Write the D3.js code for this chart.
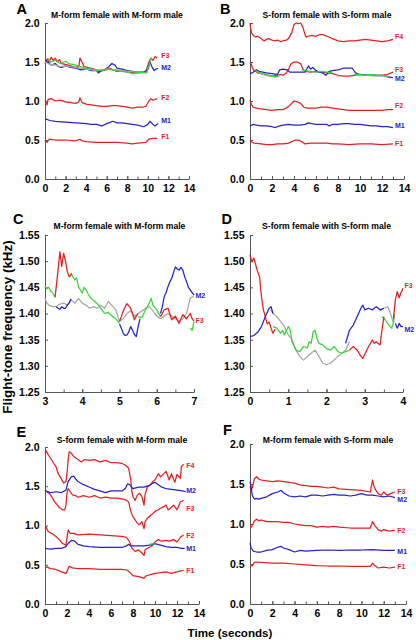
<!DOCTYPE html>
<html><head><meta charset="utf-8">
<script src="https://cdn.jsdelivr.net/npm/d3@7"></script>
<style>
body{margin:0;background:#fff}
svg{display:block}
text{font-family:"Liberation Sans",Arial,sans-serif;font-weight:bold}
</style></head>
<body><svg id="c" width="416" height="640"></svg>
<script>
// ---------- DATA (time s, frequency kHz); null = gap ----------
const panelLetters = ["A","B","C","D","E","F"];
const panelTitles = ["M-form female with M-form male","S-form female with S-form male",
  "M-form female with M-form male","S-form female with S-form male",
  "S-form female with M-form male","M-form female with S-form male"];
const xTitle = "Time (seconds)";
const yTitle = "Flight-tone frequency (kHz)";

const xTicksLong = [0,2,4,6,8,10,12,14];
const xMinorLong = [0,1,2,3,4,5,6,7,8,9,10,11,12,13,14];
const yTicksLong = [0,0.5,1.0,1.5,2.0];
const xTicksC = [3,4,5,6,7];
const xMinorC = [3,3.5,4,4.5,5,5.5,6,6.5,7];
const xTicksD = [0,1,2,3,4];
const xMinorD = [0,0.5,1,1.5,2,2.5,3,3.5,4];
const yTicksZoom = [1.25,1.30,1.35,1.40,1.45,1.50,1.55];

// Panel A
const A_F1=[[0,.50],[.2,.47],[.4,.51],[1,.50],[2,.50],[3,.49],[3.4,.51],[3.6,.49],[4,.48],[5,.47],[6,.47],[7,.47],[8,.46],[8.5,.45],[9,.46],[9.8,.47],[10.1,.51],[10.5,.52],[10.9,.52]];
const A_F2=[[0,1.01],[.2,.95],[.3,1.02],[.6,1.03],[1,1.0],[1.5,1.01],[2,.99],[2.5,.98],[3,.97],[3.3,.99],[3.4,1.04],[3.6,.98],[4,.96],[4.5,.95],[5,.94],[5.5,.93],[6,.93],[6.5,.94],[7,.94],[7.5,.93],[8,.92],[8.5,.91],[9,.92],[9.5,.92],[9.8,.93],[10.1,1.0],[10.3,1.03],[10.5,1.01],[10.9,1.03]];
const A_M1=[[0,.77],[.5,.75],[1,.74],[2,.73],[3,.72],[4,.71],[4.5,.70],[5,.70],[5.5,.68],[6,.71],[6.6,.74],[7,.72],[7.5,.72],[8,.71],[8.5,.70],[9,.69],[9.6,.67],[10,.70],[10.2,.74],[10.5,.70],[10.7,.68],[11,.71]];
const A_F3=[[0,1.48],[.2,1.54],[.4,1.50],[.6,1.56],[.8,1.52],[1,1.55],[1.2,1.50],[1.4,1.53],[1.6,1.48],[2,1.47],[2.5,1.45],[3,1.43],[3.3,1.45],[3.4,1.55],[3.6,1.50],[3.8,1.44],[4.5,1.42],[5,1.40],[5.2,1.38],[5.5,1.40],[6,1.40],[6.3,1.42],[6.6,1.40],[7,1.38],[7.5,1.39],[8,1.37],[9,1.36],[9.8,1.37],[10.1,1.50],[10.3,1.55],[10.5,1.52],[10.7,1.57],[10.9,1.55]];
const A_M2=[[0,1.52],[.3,1.50],[.6,1.46],[1,1.48],[1.3,1.44],[1.6,1.43],[2,1.45],[2.5,1.43],[3,1.42],[3.5,1.40],[4,1.41],[4.5,1.39],[5,1.39],[5.2,1.36],[5.4,1.38],[5.8,1.40],[6.2,1.44],[6.5,1.48],[6.8,1.46],[7,1.42],[7.5,1.41],[8,1.39],[8.5,1.38],[9,1.37],[9.6,1.37],[10,1.40],[10.2,1.50],[10.4,1.44],[10.6,1.39],[10.8,1.41],[11,1.42]];
const A_gray=[[0,1.50],[.5,1.47],[1,1.46],[1.5,1.44],[2,1.45],[2.5,1.44],[3,1.43],[4,1.41],[4.5,1.40],[5,1.39],[6,1.41],[7,1.40],[7.5,1.39],[8,1.38],[9,1.37],[9.8,1.36]];
const A_green=[[.3,1.55],[.5,1.50],[1,1.52],[1.5,1.48],[2,1.51],[2.3,1.48],[3,1.46],[3.5,1.44],[4,1.42],[4.5,1.41],[5,1.40],[5.5,1.39],[6,1.41],[6.5,1.40],[7,1.39],[7.5,1.38],[8,1.37],[8.5,1.35],[9,1.36],[9.5,1.37],[9.9,1.36],[10.1,1.45],[10.3,1.55]];

// Panel B
const B_F4=[[0,2.0],[.05,1.93],[.15,1.87],[.3,1.84],[.5,1.82],[.7,1.83],[1,1.80],[1.3,1.77],[1.5,1.79],[1.7,1.80],[2,1.78],[2.3,1.77],[2.5,1.78],[2.8,1.76],[3,1.77],[3.3,1.78],[3.5,1.80],[3.8,1.88],[4,1.98],[4.2,2.0],[4.4,1.99],[4.6,2.0],[4.8,1.95],[5,1.85],[5.1,1.82],[5.3,1.83],[5.6,1.84],[6,1.83],[6.3,1.85],[6.6,1.85],[7,1.83],[7.5,1.80],[8,1.77],[8.5,1.76],[9,1.77],[9.5,1.77],[10,1.78],[10.5,1.79],[11,1.78],[11.5,1.77],[12,1.76],[12.5,1.77],[13,1.79]];
const B_F3=[[0,1.50],[.1,1.48],[.2,1.43],[.3,1.40],[.5,1.38],[.7,1.36],[1,1.35],[1.5,1.33],[2,1.32],[2.5,1.33],[2.8,1.34],[3,1.33],[3.3,1.36],[3.5,1.40],[3.7,1.47],[4,1.50],[4.3,1.50],[4.6,1.48],[4.8,1.41],[5,1.38],[5.5,1.37],[6,1.38],[6.5,1.37],[7,1.36],[7.5,1.35],[8,1.33],[8.5,1.32],[9,1.32],[9.5,1.33],[10,1.33],[11,1.33],[12,1.33],[12.5,1.34],[13,1.37]];
const B_M2=[[0,1.35],[.2,1.36],[.4,1.38],[.6,1.40],[.8,1.38],[1.5,1.36],[2.5,1.34],[2.7,1.40],[3,1.41],[3.4,1.40],[3.6,1.37],[4,1.37],[4.5,1.37],[5,1.37],[5.2,1.42],[5.3,1.45],[5.5,1.41],[5.7,1.43],[6,1.39],[6.3,1.37],[6.6,1.36],[6.9,1.33],[7.2,1.38],[7.5,1.39],[8,1.40],[8.5,1.42],[9,1.42],[9.3,1.42],[9.6,1.36],[10,1.34],[11,1.33],[12,1.33],[12.5,1.31],[13,1.30]];
const B_gray=[[.8,1.36],[1.2,1.34],[1.6,1.33],[2,1.32],[2.4,1.31],[2.7,1.32],[2.8,null],[9.6,1.33],[10.5,1.33],[11.5,1.32],[12.5,1.32]];
const B_green=[[.5,1.39],[.7,1.37],[1,1.36],[1.3,1.35],[1.5,1.34],[1.8,1.33],[2,1.32],[2.3,1.31],[2.5,1.32],[2.6,null],[4.7,1.40],[5,1.39],[5.5,1.38],[6,1.37],[6.5,1.38],[7,1.37],[7.5,1.36],[7.6,null],[9.5,1.34],[10,1.34],[10.5,1.33],[11,1.34],[11.5,1.33],[12,1.33],[12.5,1.32]];
const B_F2=[[0,1.01],[.15,.95],[.3,.92],[.6,.91],[1,.90],[1.5,.89],[2,.88],[2.5,.89],[3,.89],[3.3,.91],[3.6,.94],[4,1.0],[4.3,.99],[4.6,.97],[4.9,.92],[5.2,.91],[6,.91],[6.5,.92],[7,.92],[7.5,.91],[8,.90],[8.5,.89],[9,.88],[10,.88],[11,.88],[12,.88],[12.5,.89],[13,.89]];
const B_M1=[[0,.68],[.3,.70],[.6,.69],[1,.68],[1.5,.68],[2,.67],[2.3,.66],[2.7,.68],[3,.69],[3.5,.70],[4,.69],[4.5,.69],[5,.70],[5.3,.72],[5.6,.71],[6,.70],[6.5,.70],[7,.70],[7.2,.68],[7.5,.70],[8,.70],[8.5,.71],[9,.71],[9.5,.70],[10,.70],[10.5,.69],[11,.68],[11.5,.68],[12,.67],[12.5,.67],[13,.66]];
const B_F1=[[0,.50],[.2,.47],[.4,.46],[1,.45],[1.5,.44],[2,.44],[2.5,.45],[3,.45],[3.5,.46],[3.8,.48],[4.1,.50],[4.4,.50],[4.7,.48],[5,.45],[5.5,.46],[6,.46],[7,.46],[7.5,.45],[8,.45],[9,.44],[10,.45],[11,.45],[12,.44],[13,.45]];

// Panel C (zoom of A, 3-7 s)
const C_gray=[[3,1.429],[3.05,1.42],[3.1,1.416],[3.2,1.413],[3.3,1.413],[3.4,1.418],[3.5,1.42],[3.6,1.416],[3.7,1.426],[3.8,1.42],[3.9,1.429],[4,1.42],[4.1,1.416],[4.2,1.41],[4.3,1.413],[4.4,1.41],[4.5,1.416],[4.6,1.41],[4.7,1.423],[4.8,1.415],[4.9,1.407],[5,1.385],[5.1,1.39],[5.2,1.40],[5.3,1.405],[5.4,1.395],[5.5,1.40],[5.6,1.405],[5.7,1.41],[5.8,1.413],[5.9,1.405],[6,1.395],[6.1,1.39],[6.2,1.395],[6.3,1.40],[6.4,1.395],[6.5,1.39],[6.6,1.385],[6.7,1.39],[6.8,1.40],[6.9,1.43],[7,1.433]];
const C_green=[[3,1.451],[3.05,1.447],[3.1,1.45],[3.15,1.443],[3.2,1.44],[3.27,1.431],[3.28,null],[3.7,1.477],[3.75,1.47],[3.8,1.464],[3.85,1.468],[3.9,1.451],[3.95,1.445],[4,1.439],[4.05,1.45],[4.1,1.445],[4.2,1.432],[4.3,1.425],[4.4,1.419],[4.5,1.41],[4.6,1.40],[4.7,1.402],[4.8,1.395],[4.9,1.39],[5,1.381],[5.01,null],[5.5,1.394],[5.6,1.392],[5.7,1.407],[5.8,1.42],[5.85,1.429],[5.9,1.415],[6,1.407],[6.1,1.394],[6.11,null],[6.9,1.372],[6.95,1.368],[7,1.385]];
const C_F3=[[3.27,1.431],[3.3,1.45],[3.35,1.483],[3.4,1.518],[3.45,1.49],[3.5,1.515],[3.55,1.50],[3.6,1.48],[3.65,1.47],[3.7,1.474],[3.72,1.477],[3.73,null],[5,1.385],[5.05,1.394],[5.1,1.405],[5.2,1.419],[5.3,1.41],[5.35,1.40],[5.4,1.388],[5.45,1.395],[5.5,1.40],[5.51,null],[6.1,1.394],[6.15,1.40],[6.2,1.407],[6.3,1.41],[6.35,1.40],[6.4,1.388],[6.5,1.395],[6.6,1.381],[6.65,1.39],[6.7,1.398],[6.8,1.39],[6.85,1.395],[6.9,1.40],[6.95,1.39],[7,1.386]];
const C_M2=[[3.3,1.413],[3.35,1.41],[3.4,1.408],[3.45,1.413],[3.5,1.41],[3.55,1.41],[3.6,1.416],[3.65,1.42],[3.7,1.428],[3.71,null],[5,1.38],[5.05,1.372],[5.1,1.362],[5.15,1.358],[5.2,1.359],[5.25,1.365],[5.3,1.375],[5.35,1.368],[5.4,1.36],[5.45,1.356],[5.5,1.375],[5.55,1.39],[5.56,null],[6.1,1.40],[6.15,1.413],[6.2,1.432],[6.25,1.44],[6.3,1.451],[6.35,1.46],[6.4,1.467],[6.45,1.478],[6.5,1.489],[6.55,1.485],[6.6,1.483],[6.65,1.488],[6.7,1.483],[6.75,1.47],[6.8,1.461],[6.85,1.45],[6.9,1.445],[6.95,1.44],[7,1.435]];

// Panel D (zoom of B, 0-4 s)
const D_gray=[[.55,1.407],[.6,1.40],[.7,1.394],[.8,1.385],[.9,1.375],[1,1.359],[1.1,1.35],[1.2,1.33],[1.3,1.318],[1.4,1.311],[1.5,1.318],[1.6,1.324],[1.7,1.33],[1.8,1.318],[1.9,1.305],[2,1.302],[2.1,1.305],[2.2,1.311],[2.3,1.318],[2.4,1.324],[2.5,1.33],[2.6,1.346],[2.61,null],[3.4,1.405],[3.5,1.41],[3.6,1.413],[3.65,1.405],[3.7,1.394],[3.75,1.381]];
const D_green=[[.6,1.375],[.7,1.372],[.8,1.362],[.85,1.368],[.9,1.359],[1,1.375],[1.05,1.368],[1.1,1.346],[1.2,1.33],[1.3,1.327],[1.4,1.337],[1.5,1.334],[1.55,1.346],[1.6,1.343],[1.65,1.365],[1.7,1.368],[1.75,1.353],[1.8,1.343],[1.9,1.34],[2,1.333],[2.1,1.33],[2.2,1.337],[2.3,1.327],[2.4,1.324],[2.5,1.327],[2.6,1.33],[2.61,null],[3.45,1.394],[3.5,1.391],[3.6,1.381],[3.7,1.372],[3.75,1.381],[3.78,1.40]];
const D_F3=[[0,1.512],[.05,1.499],[.1,1.506],[.15,1.493],[.2,1.48],[.25,1.47],[.3,1.432],[.35,1.407],[.4,1.394],[.45,1.38],[.5,1.384],[.55,1.372],[.6,1.362],[.65,1.37],[.66,null],[2.6,1.33],[2.7,1.337],[2.8,1.33],[2.9,1.318],[2.95,1.314],[3,1.322],[3.1,1.337],[3.2,1.349],[3.25,1.343],[3.3,1.346],[3.4,1.34],[3.45,1.368],[3.5,1.394],[3.51,null],[3.75,1.39],[3.8,1.426],[3.85,1.442],[3.9,1.43],[3.95,1.44],[4,1.448]];
const D_M2=[[0,1.356],[.1,1.358],[.2,1.364],[.3,1.375],[.4,1.394],[.5,1.41],[.55,1.413],[.6,1.40],[.61,null],[2.5,1.343],[2.6,1.368],[2.7,1.378],[2.8,1.394],[2.9,1.41],[2.95,1.416],[3,1.407],[3.1,1.41],[3.2,1.407],[3.3,1.413],[3.4,1.407],[3.5,1.41],[3.51,null],[3.8,1.381],[3.85,1.372],[3.9,1.381],[3.95,1.375],[4,1.375]];

// Panel E
const E_F4=[[0,1.92],[.1,1.95],[.3,1.90],[.5,1.86],[.8,1.79],[1,1.75],[1.2,1.66],[1.5,1.59],[1.7,1.54],[1.9,1.56],[2,1.66],[2.1,1.83],[2.2,1.94],[2.4,1.92],[2.6,1.88],[3,1.84],[3.3,1.81],[3.6,1.84],[4,1.83],[4.5,1.84],[5,1.81],[5.5,1.83],[6,1.80],[6.5,1.80],[7,1.79],[7.3,1.77],[7.6,1.73],[7.8,1.58],[7.9,1.43],[8,1.37],[8.2,1.32],[8.4,1.39],[8.6,1.41],[8.8,1.37],[9,1.26],[9.1,1.40],[9.3,1.49],[9.6,1.52],[9.8,1.56],[10,1.58],[10.3,1.66],[10.5,1.62],[10.8,1.66],[11,1.69],[11.3,1.58],[11.5,1.66],[11.8,1.55],[12,1.65],[12.3,1.60],[12.4,1.75],[12.6,1.78]];
const E_F3=[[0,1.45],[.2,1.43],[.5,1.39],[.8,1.32],[1,1.28],[1.3,1.23],[1.6,1.20],[1.8,1.20],[1.9,1.26],[2,1.41],[2.1,1.47],[2.3,1.43],[2.5,1.39],[2.8,1.38],[3,1.36],[3.5,1.38],[4,1.36],[4.5,1.38],[5,1.35],[5.5,1.36],[6,1.35],[6.5,1.35],[7,1.34],[7.3,1.33],[7.6,1.30],[7.8,1.18],[8,1.11],[8.2,1.07],[8.4,1.03],[8.6,1.01],[8.8,1.05],[9,.96],[9.1,1.05],[9.3,1.09],[9.6,1.13],[9.8,1.15],[10,1.18],[10.3,1.20],[10.5,1.22],[10.8,1.24],[11,1.26],[11.2,1.20],[11.4,1.22],[11.7,1.26],[12,1.20],[12.3,1.30],[12.6,1.32]];
const E_F2=[[0,.96],[.1,.98],[.3,.92],[.6,.90],[1,.86],[1.3,.82],[1.6,.77],[1.9,.75],[2,.84],[2.1,.94],[2.3,.90],[2.6,.90],[3,.88],[4,.89],[5,.88],[6,.87],[7,.86],[7.4,.85],[7.7,.79],[7.9,.71],[8.2,.67],[8.5,.69],[8.8,.65],[9,.62],[9.1,.69],[9.3,.71],[9.6,.73],[9.8,.75],[10,.79],[10.3,.82],[10.6,.80],[11,.81],[11.3,.80],[11.7,.82],[12,.79],[12.3,.85],[12.6,.88]];
const E_M1=[[0,.71],[.5,.70],[1,.71],[1.5,.71],[1.9,.73],[2.1,.77],[2.4,.81],[2.7,.80],[3,.76],[3.5,.74],[4,.73],[5,.72],[6,.72],[7,.72],[7.4,.74],[7.6,.76],[7.8,.74],[8.2,.74],[9,.74],[9.5,.75],[10,.77],[10.5,.75],[11,.73],[11.5,.72],[12,.72],[12.4,.71],[12.7,.71]];
const E_M2=[[0,1.44],[.5,1.42],[1,1.43],[1.5,1.42],[1.9,1.45],[2.1,1.56],[2.4,1.62],[2.6,1.63],[2.8,1.59],[3,1.56],[3.5,1.52],[4,1.49],[4.5,1.46],[5,1.44],[5.5,1.42],[6,1.44],[6.5,1.44],[7,1.44],[7.3,1.47],[7.5,1.53],[7.7,1.52],[8,1.47],[8.5,1.49],[9,1.49],[9.5,1.51],[9.8,1.54],[10,1.55],[10.3,1.52],[10.6,1.49],[11,1.47],[11.5,1.46],[12,1.45],[12.5,1.44],[12.8,1.43]];
const E_F1=[[0,.48],[.2,.47],[.5,.45],[1,.44],[1.5,.41],[1.9,.39],[2.1,.45],[2.2,.48],[2.5,.46],[3,.45],[4,.45],[5,.44],[6,.44],[7,.44],[7.5,.43],[7.8,.39],[8,.36],[8.5,.35],[9,.33],[9.2,.36],[9.5,.37],[10,.39],[10.5,.40],[11,.41],[11.5,.39],[12,.41],[12.3,.42],[12.6,.43]];
const E_green=[[9.5,.76],[9.8,.77],[10.1,.76]];

// Panel F
const F_F3=[[0,1.47],[.1,1.43],[.2,1.45],[.4,1.57],[.6,1.59],[.8,1.56],[1,1.55],[1.5,1.54],[2,1.53],[2.5,1.54],[3,1.53],[3.5,1.52],[4,1.51],[4.5,1.49],[5,1.48],[5.5,1.47],[6,1.47],[6.5,1.46],[7,1.45],[7.5,1.46],[8,1.44],[9,1.43],[10,1.42],[10.8,1.40],[10.9,1.48],[11,1.55],[11.1,1.48],[11.3,1.42],[11.5,1.38],[11.8,1.36],[12,1.40],[12.3,1.36],[12.6,1.38],[13,1.40]];
const F_M2=[[0,1.53],[.1,1.47],[.2,1.36],[.4,1.31],[.6,1.32],[.8,1.31],[1,1.32],[1.5,1.34],[2,1.38],[2.5,1.40],[2.8,1.42],[3,1.39],[3.5,1.35],[4,1.34],[4.5,1.35],[5,1.34],[5.5,1.36],[6,1.36],[6.5,1.35],[7,1.36],[7.5,1.37],[8,1.36],[8.5,1.36],[9,1.35],[9.5,1.36],[10,1.38],[10.5,1.36],[11,1.36],[11.5,1.35],[12,1.34],[12.5,1.35],[13,1.33]];
const F_F2=[[0,.97],[.1,.96],[.2,.98],[.4,1.04],[.6,1.06],[.8,1.04],[1,1.05],[1.5,1.03],[2,1.03],[2.5,1.03],[3,1.02],[3.5,1.02],[4,1.00],[4.5,.99],[5,.98],[5.5,.98],[6,.96],[6.5,.97],[7,.96],[7.5,.97],[8,.96],[9,.95],[10,.95],[10.8,.95],[10.9,.99],[11,1.03],[11.2,.98],[11.5,.93],[11.8,.91],[12,.93],[12.5,.91],[13,.92]];
const F_M1=[[0,.76],[.1,.70],[.3,.66],[.6,.65],[1,.65],[1.5,.67],[2,.68],[2.5,.71],[2.8,.72],[3,.70],[3.5,.68],[4,.65],[4.5,.67],[5,.66],[6,.67],[7,.675],[8,.67],[9,.675],[10,.675],[11,.68],[12,.67],[13,.67]];
const F_F1=[[0,.47],[.2,.48],[.4,.52],[.6,.525],[1,.52],[2,.51],[3,.51],[4,.50],[5,.49],[6,.48],[7,.475],[8,.475],[9,.47],[10,.47],[10.8,.47],[11,.51],[11.2,.48],[11.5,.45],[12,.46],[12.5,.45],[13,.46]];

// Line-end labels: [name, series kind, label value (kHz)]
const A_labels=[["F3","F",1.58],["M2","M",1.435],["F2","F",1.05],["M1","M",0.745],["F1","F",0.54]];
const B_labels=[["F4","F",1.82],["F3","F",1.405],["M2","M",1.29],["F2","F",0.94],["M1","M",0.68],["F1","F",0.46]];
const C_labels=[["M2","M",1.435],["F3","F",1.386]];
const D_labels=[["F3","F",1.454],["M2","M",1.37]];
const E_labels=[["F4","F",1.76],["M2","M",1.44],["F3","F",1.22],["F2","F",0.87],["M1","M",0.71],["F1","F",0.43]];
const F_labels=[["F3","F",1.405],["M2","M",1.30],["F2","F",0.92],["M1","M",0.65],["F1","F",0.47]];

// ---------- STYLE / LAYOUT ----------
const COL = {F:"#e31f1f", M:"#2323c8", G:"#3ad13a", Y:"#a6a6a6"};
const AX = "#555";
const layout = [
  {x0:45,x1:189,yb:179,yt:23, lx:16.5,ly:13.5, ty:18},
  {x0:250,x1:404,yb:179,yt:23, lx:220,ly:13.5, ty:18},
  {x0:45,x1:194,yb:392,yt:235, lx:13,ly:224, ty:229},
  {x0:250,x1:403,yb:392,yt:235, lx:221.5,ly:224, ty:229},
  {x0:45,x1:199,yb:604,yt:447, lx:16.5,ly:437, ty:443},
  {x0:250,x1:406,yb:604,yt:444, lx:223,ly:435, ty:443}
];
const specs = [
  {xd:[0,14],yd:[0,2],xt:xTicksLong,xm:xMinorLong,yt:yTicksLong,fmt:".1f",
   series:[[A_F3,"F"],[A_M2,"M"],[A_gray,"Y"],[A_green,"G"],[A_F2,"F"],[A_M1,"M"],[A_F1,"F"]],labels:A_labels,lend:11,lgap:3},
  {xd:[0,14],yd:[0,2],xt:xTicksLong,xm:xMinorLong,yt:yTicksLong,fmt:".1f",
   series:[[B_F4,"F"],[B_F3,"F"],[B_M2,"M"],[B_gray,"Y"],[B_green,"G"],[B_F2,"F"],[B_M1,"M"],[B_F1,"F"]],labels:B_labels,lend:13,lgap:2},
  {xd:[3,7],yd:[1.25,1.55],xt:xTicksC,xm:xMinorC,yt:yTicksZoom,fmt:".2f",
   series:[[C_gray,"Y"],[C_green,"G"],[C_F3,"F"],[C_M2,"M"]],labels:C_labels,lend:7,lgap:1.5},
  {xd:[0,4],yd:[1.25,1.55],xt:xTicksD,xm:xMinorD,yt:yTicksZoom,fmt:".2f",
   series:[[D_gray,"Y"],[D_green,"G"],[D_F3,"F"],[D_M2,"M"]],labels:D_labels,lend:4,lgap:1.5},
  {xd:[0,14],yd:[0,2],xt:xTicksLong,xm:xMinorLong,yt:yTicksLong,fmt:".1f",
   series:[[E_F4,"F"],[E_F3,"F"],[E_M2,"M"],[E_F2,"F"],[E_M1,"M"],[E_green,"G"],[E_F1,"F"]],labels:E_labels,lend:12.7,lgap:1.5},
  {xd:[0,14],yd:[0,2],xt:xTicksLong,xm:xMinorLong,yt:yTicksLong,fmt:".1f",
   series:[[F_F3,"F"],[F_M2,"M"],[F_F2,"F"],[F_M1,"M"],[F_F1,"F"]],labels:F_labels,lend:13,lgap:2.5}
];

const svg = d3.select("#c");

specs.forEach((s,i)=>{
  const L = layout[i];
  const x = d3.scaleLinear().domain(s.xd).range([L.x0,L.x1]);
  const y = d3.scaleLinear().domain(s.yd).range([L.yb,L.yt]);
  const g = svg.append("g");

  g.append("g").attr("transform",`translate(0,${L.yb})`)
    .call(d3.axisBottom(x).tickValues(s.xm).tickFormat("").tickSizeInner(-2.5).tickSizeOuter(0))
    .call(a=>a.select(".domain").remove())
    .call(a=>a.selectAll("line").attr("stroke",AX));
  g.append("g").attr("transform",`translate(0,${L.yb})`)
    .call(d3.axisBottom(x).tickValues(s.xt).tickFormat(d3.format("d")).tickSizeInner(-3).tickSizeOuter(0).tickPadding(5.5))
    .call(a=>{a.select(".domain").attr("stroke",AX);a.selectAll("line").attr("stroke",AX);
      a.selectAll("text").attr("font-size",10.5).attr("font-family","Liberation Sans, Arial, sans-serif").attr("font-weight","bold").attr("fill","#000");});
  g.append("g").attr("transform",`translate(${L.x0},0)`)
    .call(d3.axisLeft(y).tickValues(s.yt).tickFormat(d3.format(s.fmt)).tickSizeInner(-3).tickSizeOuter(0).tickPadding(5.5))
    .call(a=>{a.select(".domain").attr("stroke",AX);a.selectAll("line").attr("stroke",AX);
      a.selectAll("text").attr("font-size",10.5).attr("font-family","Liberation Sans, Arial, sans-serif").attr("font-weight","bold").attr("fill","#000");});

  const line = d3.line().defined(d=>d[1]!=null).x(d=>x(d[0])).y(d=>y(d[1]));
  s.series.forEach(([data,k])=>{
    g.append("path").datum(data).attr("d",line).attr("fill","none")
      .attr("stroke",COL[k]).attr("stroke-width",1.25).attr("stroke-linejoin","round");
  });

  g.selectAll("text.lab").data(s.labels).join("text").attr("class","lab")
    .attr("x",x(s.lend)+s.lgap).attr("y",d=>y(d[2])).attr("dy","0.35em")
    .attr("font-size",7).attr("fill",d=>COL[d[1]]).text(d=>d[0]);

  g.append("text").attr("x",(L.x0+L.x1)/2).attr("y",L.ty).attr("text-anchor","middle")
    .attr("font-size",8.6).attr("fill","#000").text(panelTitles[i]);
  g.append("text").attr("x",L.lx).attr("y",L.ly).attr("font-size",14.5).attr("fill","#000").text(panelLetters[i]);
});

svg.append("text").attr("x",230).attr("y",637).attr("text-anchor","middle")
  .attr("font-size",11.6).attr("fill","#000").text(xTitle);
svg.append("text").attr("transform","translate(11.5,327) rotate(-90)").attr("text-anchor","middle")
  .attr("font-size",13.4).attr("fill","#000").text(yTitle);
</script></body></html>
